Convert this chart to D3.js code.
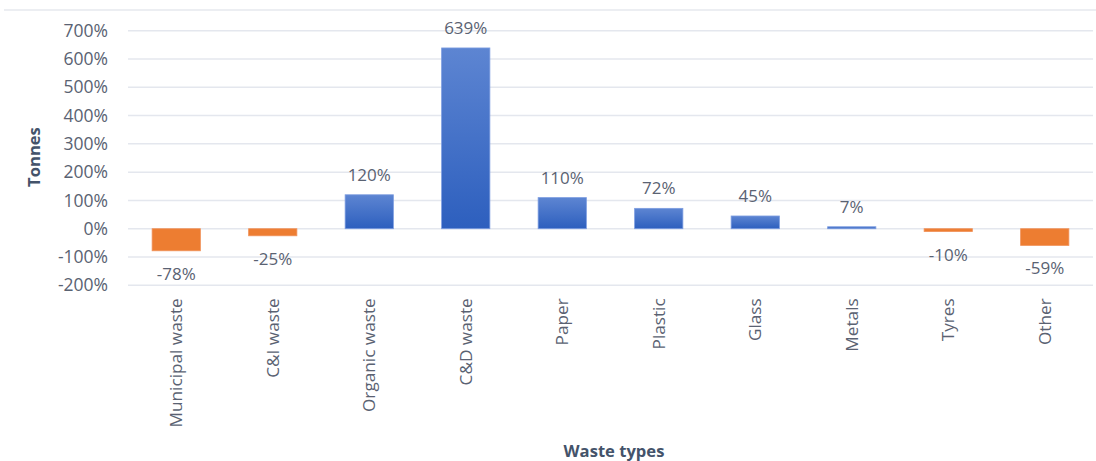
<!DOCTYPE html>
<html>
<head>
<meta charset="utf-8">
<script src="https://cdn.jsdelivr.net/npm/d3@7"></script>
<style>
  html, body { margin: 0; padding: 0; background: #fff; }
  svg { display: block; font-family: "Open Sans", "Noto Sans", sans-serif; }
</style>
</head>
<body>
<svg id="chart" width="1096" height="461"></svg>
<script>
// Change in waste generated, by waste type
const categories = ["Municipal waste", "C&I waste", "Organic waste", "C&D waste", "Paper",
                    "Plastic", "Glass", "Metals", "Tyres", "Other"];
const changePct = [-78, -25, 120, 639, 110, 72, 45, 7, -10, -59];
const tickValues = [-200, -100, 0, 100, 200, 300, 400, 500, 600, 700];

const W = 1096, H = 461;
const margin = { left: 128, right: 3, top: 30.7, bottom: 175.7 };
const svg = d3.select("#chart");
const textColor = "#5a6272";

const defs = svg.append("defs");
const grad = defs.append("linearGradient")
  .attr("id", "blueGrad").attr("x1", 0).attr("y1", 0).attr("x2", 0).attr("y2", 1);
grad.append("stop").attr("offset", "0%").attr("stop-color", "#5d85d2");
grad.append("stop").attr("offset", "100%").attr("stop-color", "#2d5fbe");

const x = d3.scaleBand()
  .domain(categories)
  .range([margin.left, W - margin.right])
  .paddingInner(0.5).paddingOuter(0.25);

const y = d3.scaleLinear()
  .domain([-200, 700])
  .range([H - margin.bottom, margin.top]);

// top frame line
svg.append("line")
  .attr("x1", 4).attr("x2", W).attr("y1", 10).attr("y2", 10)
  .attr("stroke", "#eceef2").attr("stroke-width", 2);

// gridlines
svg.append("g")
  .selectAll("line")
  .data(tickValues)
  .join("line")
  .attr("x1", margin.left).attr("x2", W - margin.right)
  .attr("y1", d => y(d)).attr("y2", d => y(d))
  .attr("stroke", "#e4e7ee").attr("stroke-width", 1.5);

// y axis labels
const yAxis = d3.axisLeft(y).tickValues(tickValues).tickFormat(d => d + "%").tickSize(0).tickPadding(0);
const gy = svg.append("g").attr("transform", `translate(${margin.left - 20},0)`).call(yAxis);
gy.select(".domain").remove();
gy.selectAll("text")
  .attr("fill", textColor)
  .attr("font-size", 17.5)
  .attr("font-family", "'Open Sans', sans-serif");

// bars
svg.append("g")
  .selectAll("rect")
  .data(changePct)
  .join("rect")
  .attr("x", (d, i) => x(categories[i]))
  .attr("width", x.bandwidth())
  .attr("y", d => y(Math.max(0, d)))
  .attr("height", d => Math.abs(y(d) - y(0)))
  .attr("fill", d => d >= 0 ? "url(#blueGrad)" : "#ed7d31")
  .attr("stroke", d => d >= 0 ? "#7d9de0" : "#f0925a")
  .attr("stroke-width", 0.8);

// value labels
svg.append("g")
  .selectAll("text")
  .data(changePct)
  .join("text")
  .attr("x", (d, i) => x(categories[i]) + x.bandwidth() / 2)
  .attr("y", d => d >= 0 ? y(d) - 20 : y(d) + 23)
  .attr("dy", "0.35em")
  .attr("text-anchor", "middle")
  .attr("fill", textColor)
  .attr("font-size", 17)
  .text(d => d + "%");

// category labels (rotated)
const xAxis = d3.axisBottom(x).tickSize(0).tickPadding(0);
const gx = svg.append("g").attr("transform", `translate(0,${y(-200) + 13})`).call(xAxis);
gx.select(".domain").remove();
gx.selectAll("text")
  .attr("fill", textColor)
  .attr("font-size", 17.2)
  .attr("font-family", "'Open Sans', sans-serif")
  .attr("text-anchor", "end")
  .attr("dy", "0.35em")
  .attr("transform", "rotate(-90)")
  .attr("x", 0).attr("y", 0);

// axis titles
svg.append("text")
  .attr("transform", `translate(40,157) rotate(-90)`)
  .attr("text-anchor", "middle")
  .attr("fill", "#44536a")
  .attr("font-weight", "bold")
  .attr("font-size", 16.6)
  .text("Tonnes");

svg.append("text")
  .attr("x", 614).attr("y", 457)
  .attr("text-anchor", "middle")
  .attr("fill", "#44536a")
  .attr("font-weight", "bold")
  .attr("font-size", 16.6)
  .text("Waste types");
</script>
</body>
</html>
